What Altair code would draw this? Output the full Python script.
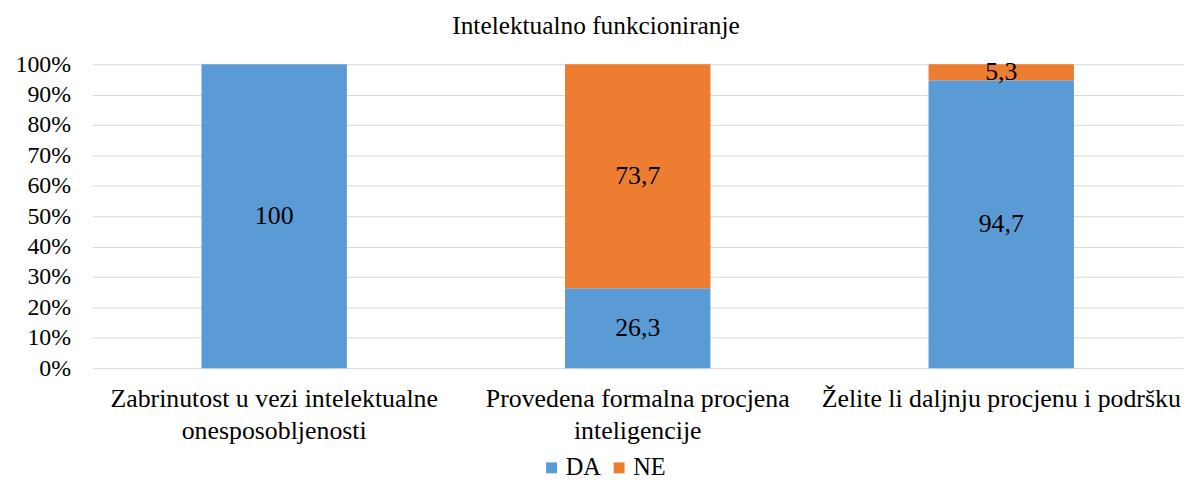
import altair as alt
import pandas as pd

categories = [
    "Zabrinutost u vezi intelektualne|onesposobljenosti",
    "Provedena formalna procjena|inteligencije",
    "Želite li daljnju procjenu i podršku",
]
series = ["DA", "NE"]
da_values = [100, 26.3, 94.7]
ne_values = [0, 73.7, 5.3]
colors = ["#5B9BD5", "#ED7D31"]

rows = []
for i, c in enumerate(categories):
    rows.append({"category": c, "series": "DA", "value": da_values[i], "ord": 0})
    rows.append({"category": c, "series": "NE", "value": ne_values[i], "ord": 1})
df = pd.DataFrame(rows)

FONT = "Liberation Serif"

base = alt.Chart(df).transform_stack(
    stack="value", groupby=["category"], as_=["y0", "y1"],
    sort=[alt.SortField("ord", order="ascending")]
).transform_calculate(
    mid="(datum.y0 + datum.y1) / 2",
    lab="replace(format(datum.value, '.4~g'), '.', ',')"
)

x_axis = alt.Axis(
    labelExpr="split(datum.label, '|')", labelAngle=0,
    labelFont=FONT, labelFontSize=26, labelColor="#000000",
    labelLineHeight=32, labelPadding=18, ticks=False, domain=False,
    grid=False, labelBaseline="top", labelLimit=0,
)
x_scale = alt.Scale(paddingInner=0.6, paddingOuter=0.3)

y_axis = alt.Axis(
    values=list(range(0, 101, 10)), labelExpr="datum.value + '%'",
    labelFont=FONT, labelFontSize=24, labelColor="#000000",
    labelPadding=22, ticks=False, domain=False, labelOverlap=False,
    grid=True, gridColor="#D9D9D9", gridWidth=1,
)
y_scale = alt.Scale(domain=[0, 100], nice=False)

bars = base.mark_bar().encode(
    x=alt.X("category:N", sort=categories, title=None, scale=x_scale, axis=x_axis),
    y=alt.Y("y0:Q", title=None, scale=y_scale, axis=y_axis),
    y2="y1:Q",
    color=alt.Color(
        "series:N", scale=alt.Scale(domain=series, range=colors), title=None,
        legend=alt.Legend(
            orient="none", direction="horizontal", legendX=450, legendY=394,
            symbolType="square", symbolSize=121, symbolStrokeWidth=0,
            columnPadding=6, labelOffset=2,
            labelFont=FONT, labelFontSize=24.5, labelColor="#000000",
            labelLimit=0,
        ),
    ),
)

labels = base.transform_filter("datum.value > 0").mark_text(
    font=FONT, fontSize=26, color="#000000", baseline="middle", align="center"
).encode(
    x=alt.X("category:N", sort=categories, title=None, scale=x_scale, axis=x_axis),
    y=alt.Y("mid:Q", title=None, scale=y_scale, axis=y_axis),
    text="lab:N",
)

chart = (bars + labels).properties(
    width=1098, height=306,
    autosize=alt.AutoSizeParams(type="none"),
    padding={"left": 85, "top": 55, "right": 3, "bottom": 111},
    title="Intelektualno funkcioniranje",
).configure_view(stroke=None).configure_title(
    font=FONT, fontSize=25.5, fontWeight="normal", color="#000000",
    anchor="middle", dx=-42, offset=13,
)

chart.save("out.html", embed_options={"renderer": "svg", "actions": False})
